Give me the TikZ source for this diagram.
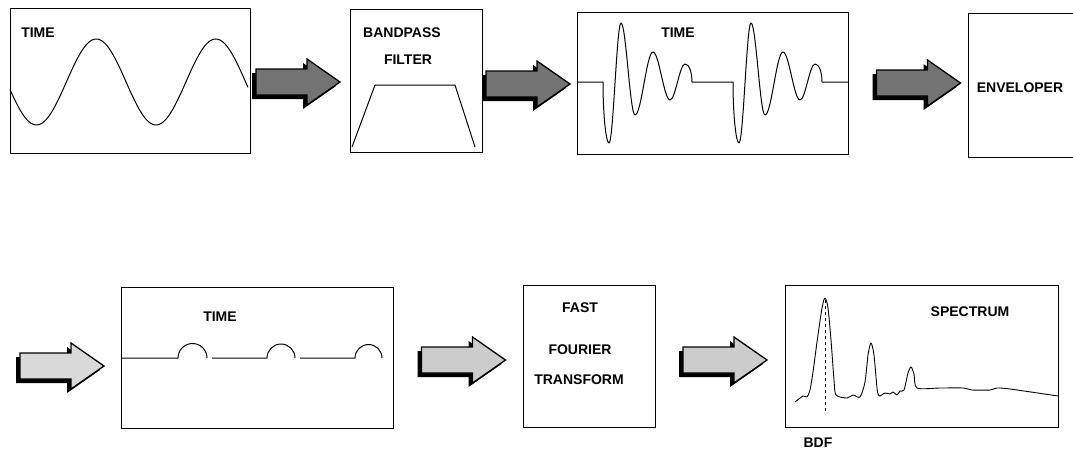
\documentclass[tikz,border=0pt]{standalone}
\usepackage{fontspec}
\setmainfont{Liberation Sans}
\tikzset{
  box/.style={draw, line width=0.8pt, inner sep=0pt},
  lbl/.style={font=\fontsize{14}{16}\selectfont\bfseries, inner sep=0pt},
  wave/.style={line width=1pt, line join=round},
  blockarrow/.pic={
    \fill[black] (-46,-9) -- (5,-9) -- (5,-19) -- (38,4) -- (5,27) -- (5,17) -- (-46,17) -- cycle;
    \filldraw[draw=black, line width=1.3pt, line join=miter, fill=#1]
      (-42,-13) -- (9,-13) -- (9,-23) -- (42,0) -- (9,23) -- (9,13) -- (-42,13) -- cycle;
  }
}
\begin{document}
\begin{tikzpicture}[x=1pt, y=-1pt]
\useasboundingbox[fill=white] (0,0) rectangle (1073,451);

% ---------- row 1 ----------
\node[box, minimum width=240pt, minimum height=145pt] (b1) at (130,80.5) {};
\node[lbl] (t1) at (38,33) {TIME};
\draw[wave] plot[domain=10:248, samples=160] (\x, {82+43*cos(3.0126*(\x-36.5))});

\node[box, minimum width=132pt, minimum height=143pt] (b2) at (416,80.5) {};
\node[lbl] (t2a) at (402,33) {BANDPASS};
\node[lbl] (t2b) at (408,60) {FILTER};
\draw[wave] (352,147) -- (375,85) -- (455,85) -- (475,147);

\node[box, minimum width=271pt, minimum height=142pt] (b3) at (712.5,83) {};
\node[lbl] (t3) at (678,33) {TIME};
\draw[wave] (577,82) -- (603,82)
  .. controls (603,115) and (606,143) .. (609,143)
  .. controls (613.3,143) and (616.7,23) .. (621,23)
  .. controls (626,23) and (630,115) .. (635,115)
  .. controls (641.5,115) and (646.5,52) .. (653,52)
  .. controls (659,52) and (664,100) .. (670,100)
  .. controls (675.4,100) and (679.6,64) .. (685,64)
  .. controls (689,64) and (692,72) .. (692,82)
  -- (733,82)
  .. controls (733,115) and (736,143) .. (739,143)
  .. controls (743.3,143) and (746.7,23) .. (751,23)
  .. controls (756,23) and (760,115) .. (765,115)
  .. controls (771.5,115) and (776.5,52) .. (783,52)
  .. controls (789,52) and (794,100) .. (800,100)
  .. controls (805.4,100) and (809.6,64) .. (815,64)
  .. controls (819,64) and (822,72) .. (822,82)
  -- (848,82);

\coordinate (b4ne) at (1085,13);
\coordinate (b4se) at (1085,157);
\coordinate (b4nw) at (968,13);
\coordinate (b4sw) at (968,157);
\draw[line width=0.8pt] (b4ne) -- (b4nw) -- (b4sw) -- (b4se);
\node[lbl] (t4) at (1020,88) {ENVELOPER};

% block arrows row 1
\pic (a1) at (298,82) {blockarrow=black!55};
\pic (a2) at (528,84) {blockarrow=black!55};
\pic (a3) at (918.5,83) {blockarrow=black!55};

% ---------- row 2 ----------
\pic (a4) at (62,366) {blockarrow=black!15};

\node[box, minimum width=272pt, minimum height=141pt] (b5) at (257,357.5) {};
\node[lbl] (t5) at (220,317) {TIME};
\draw[wave] (121,358) -- (178,358) arc[start angle=180, end angle=0, radius=14.5pt];
\draw[wave] (212,358) -- (267,358) arc[start angle=180, end angle=0, radius=14pt];
\draw[wave] (300,358) -- (355,358) arc[start angle=180, end angle=0, radius=13.5pt];

\pic (a5) at (463.5,360) {blockarrow=black!20};

\node[box, minimum width=132pt, minimum height=142pt] (b6) at (589,356) {};
\node[lbl] (t6a) at (580,308) {FAST};
\node[lbl] (t6b) at (580,350) {FOURIER};
\node[lbl] (t6c) at (579,380) {TRANSFORM};

\pic (a6) at (725,360) {blockarrow=black!20};

\node[box, minimum width=273pt, minimum height=142pt] (b7) at (921.5,356) {};
\node[lbl] (t7) at (970,312) {SPECTRUM};
\node[lbl] (t8) at (818,443) {BDF};
\draw[line width=0.9pt, line join=round] plot[smooth, tension=0.45] coordinates {
  (795,402) (803,396) (807,397) (810,390) (813,372) (817,342) (822,308) (825,298)
  (828,308) (831,340) (834,380) (836,395) (847,398) (853,395) (860,397)
  (865,382) (868,355) (871,343) (874,355) (877,388) (879,396) (885,393)
  (890,394) (893,392) (897,395) (900,391) (904,390) (908,373) (911,367)
  (914,374) (917,388) (940,388) (963,388) (972,390) (990,390) (997,388)
  (1010,389) (1058,396)};
\draw[dashed, line width=0.6pt] (825,300) -- (825,413);
\end{tikzpicture}
\end{document}
